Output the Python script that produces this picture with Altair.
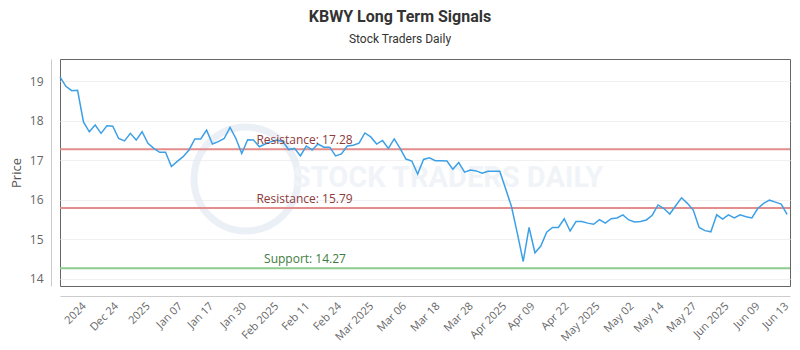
import altair as alt
import pandas as pd

# ---- data ----
prices = [
    19.11, 18.87, 18.76, 18.77, 17.97, 17.72, 17.89, 17.68, 17.87, 17.86,
    17.55, 17.49, 17.68, 17.51, 17.72, 17.43, 17.30, 17.20, 17.20, 16.84,
    16.97, 17.09, 17.26, 17.54, 17.54, 17.76, 17.41, 17.47, 17.55, 17.83,
    17.55, 17.17, 17.52, 17.51, 17.34, 17.41, 17.47, 17.51, 17.47, 17.27,
    17.30, 17.11, 17.36, 17.26, 17.41, 17.33, 17.33, 17.11, 17.16, 17.36,
    17.38, 17.43, 17.69, 17.59, 17.41, 17.50, 17.30, 17.54, 17.30, 17.03,
    16.98, 16.65, 17.02, 17.06, 16.99, 16.99, 16.98, 16.77, 16.94, 16.70,
    16.75, 16.73, 16.67, 16.72, 16.72, 16.72, 16.28, 15.83, 15.15, 14.44,
    15.30, 14.66, 14.83, 15.18, 15.30, 15.30, 15.52, 15.21, 15.45, 15.45,
    15.41, 15.38, 15.50, 15.41, 15.52, 15.54, 15.62, 15.49, 15.44, 15.45,
    15.49, 15.61, 15.87, 15.78, 15.64, 15.85, 16.05, 15.91, 15.74, 15.30,
    15.22, 15.19, 15.62, 15.51, 15.62, 15.54, 15.62, 15.57, 15.54, 15.78,
    15.91, 15.99, 15.94, 15.89, 15.63,
]

tick_positions = [3.4, 8.9, 14.3, 19.8, 25.1, 30.7, 36.2, 41.5, 46.9, 52.4,
                  58.0, 63.7, 69.4, 75.1, 79.9, 85.7, 91.0, 96.8, 101.9, 107.5,
                  113.0, 118.3, 123.2]
tick_labels = ["2024", "Dec 24", "2025", "Jan 07", "Jan 17", "Jan 30", "Feb 2025",
               "Feb 11", "Feb 24", "Mar 2025", "Mar 06", "Mar 18", "Mar 28",
               "Apr 2025", "Apr 09", "Apr 22", "May 2025", "May 02", "May 14",
               "May 27", "Jun 2025", "Jun 09", "Jun 13"]

level_values = [17.28, 15.79, 14.27]
level_labels = ["Resistance: 17.28", "Resistance: 15.79", "Support: 14.27"]
level_label_x = [33.5, 33.5, 34.8]
level_line_colors = ["#e38d8d", "#e38d8d", "#8ccc8c"]
level_text_colors = ["#8c3a3a", "#8c3a3a", "#3d7d3d"]

# ---- tables ----
df = pd.DataFrame({"i": list(range(len(prices))), "price": prices})
levels = pd.DataFrame({
    "i": level_label_x,
    "price": level_values,
    "label": level_labels,
    "lc": level_line_colors,
    "tc": level_text_colors,
})

label_js = "[" + ",".join("'%s'" % t for t in tick_labels) + "]"
pos_js = "[" + ",".join(str(p) for p in tick_positions) + "]"

x_scale = alt.Scale(domain=[0, 124.5], nice=False, zero=False)
y_scale = alt.Scale(domain=[13.82, 19.56], nice=False, zero=False)

x_axis = alt.Axis(
    values=tick_positions,
    labelExpr=f"{label_js}[indexof({pos_js}, datum.value)]",
    labelAngle=-45, labelAlign="right", labelBaseline="top",
    labelFont="Open Sans", labelFontSize=11, labelColor="#666666",
    labelPadding=4, ticks=False, grid=False, offset=10,
    domainColor="#cccccc", labelOverlap=False, labelBound=False,
)
y_axis = alt.Axis(
    values=[14, 15, 16, 17, 18, 19], format="d",
    labelFont="Open Sans", labelFontSize=12, labelColor="#666666",
    labelPadding=8, ticks=False, grid=True, gridColor="#f0f0f0",
    offset=9, domainColor="#cccccc",
    titleFont="Open Sans", titleFontSize=13, titleColor="#555555",
    titleFontWeight="normal", titlePadding=6,
)
x_enc = alt.X("i:Q", scale=x_scale, title=None, axis=x_axis)
y_enc = alt.Y("price:Q", scale=y_scale, title="Price", axis=y_axis)

# watermark
wm_circle = alt.Chart(pd.DataFrame({"a": [0]})).mark_point(
    shape="circle", size=10800, filled=False, stroke="#e3ebf3",
    strokeWidth=7, opacity=0.7,
).encode(x=alt.value(186), y=alt.value(120))
wm_text = alt.Chart(pd.DataFrame({"t": ["STOCK TRADERS DAILY"]})).mark_text(
    font="Roboto", fontSize=29, fontWeight="bold", color="#f0f4f8",
    align="center", baseline="middle",
).encode(x=alt.value(388), y=alt.value(119), text="t:N")

line = alt.Chart(df).mark_line(color="#3da0e6", strokeWidth=1.5).encode(
    x=x_enc, y=y_enc
)

rules = alt.Chart(levels).mark_rule(strokeWidth=2).encode(
    y=y_enc,
    color=alt.Color("lc:N", scale=None, legend=None),
)
texts = alt.Chart(levels).mark_text(
    align="left", baseline="bottom", dy=-2, font="Open Sans", fontSize=12,
).encode(
    x=x_enc,
    y=y_enc,
    text="label:N",
    color=alt.Color("tc:N", scale=None, legend=None),
)

chart = alt.layer(wm_circle, wm_text, rules, line, texts).properties(
    width=730, height=227,
    autosize=alt.AutoSizeParams(type="none"),
    padding={"left": 52, "top": 51, "right": 2, "bottom": 60},
    title=alt.TitleParams(
        text="KBWY Long Term Signals", subtitle="Stock Traders Daily",
        font="Roboto", fontSize=16, fontWeight="bold", color="#333333",
        subtitleFont="Roboto", subtitleFontSize=12, subtitleColor="#333333",
        anchor="middle", dx=-25, offset=14, subtitlePadding=9,
    ),
).configure_view(stroke="#666666", strokeWidth=1).configure_axis(labelOverlap=False)

chart.save("out.html", embed_options={"renderer": "svg", "actions": False})
